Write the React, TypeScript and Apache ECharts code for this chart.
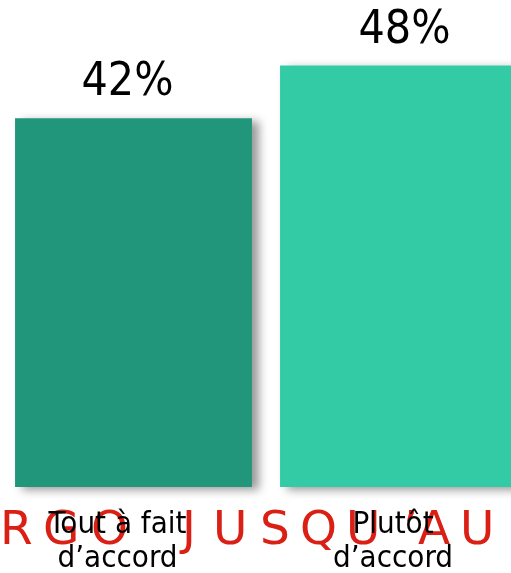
import React, { useEffect, useRef } from "react";
import * as echarts from "echarts";

const categories = ["Tout à fait\nd’accord", "Plutôt\nd’accord"];
const values = [42, 48];
const valueLabels = ["42%", "48%"];
const barColors = ["#21967A", "#33CBA5"];
const watermarkLetters = ["R", "G", "O", "J", "U", "S", "Q", "U", "’A", "U"];

const FONT = "'DejaVu Sans Condensed', 'DejaVu Sans', sans-serif";

export default function App() {
  const ref = useRef<HTMLDivElement>(null);
  useEffect(() => {
    document.body.style.overflow = "hidden";
    const chart = echarts.init(ref.current!, null, { renderer: "svg" });
    const wmX = [0, 43, 91, 182, 213, 260, 300, 346, 403, 460];
    const labelShift = [-6, 6];
    chart.setOption({
      animation: false,
      grid: { left: 1, top: 48, bottom: 86, right: 0 },
      xAxis: {
        type: "category",
        data: categories,
        axisLine: { show: false },
        axisTick: { show: false },
        axisLabel: {
          interval: 0,
          margin: 18,
          formatter: (val: string, idx: number) =>
            val.split("\n").map((l) => `{c${idx}|${l}}`).join("\n"),
          rich: {
            c0: { fontFamily: FONT, fontSize: 31, lineHeight: 34, color: "#000", padding: [0, 32, 0, 0] },
            c1: { fontFamily: FONT, fontSize: 31, lineHeight: 34, color: "#000", padding: [0, 11, 0, 0] },
          },
        },
        z: 5,
      },
      yAxis: { type: "value", min: 0, max: 50, show: false },
      series: [
        {
          type: "bar",
          barCategoryGap: "10.6%",
          data: values.map((v, i) => ({
            value: v,
            itemStyle: { color: barColors[i] },
            label: { offset: [labelShift[i], 0] },
          })),
          itemStyle: {
            shadowBlur: 10,
            shadowOffsetX: 7,
            shadowOffsetY: 3,
            shadowColor: "rgba(0,0,0,0.4)",
          },
          label: {
            show: true,
            position: "top",
            distance: 16,
            formatter: (p: any) => valueLabels[p.dataIndex],
            fontSize: 46,
            fontFamily: FONT,
            color: "#000",
          },
        },
      ],
      graphic: {
        elements: watermarkLetters.map((t, i) => ({
          type: "text",
          x: wmX[i],
          y: 504,
          z: -10,
          silent: true,
          style: {
            text: t,
            fontSize: 47,
            fontFamily: "'DejaVu Sans', sans-serif",
            fill: "#DA1F14",
            verticalAlign: "top",
          },
        })),
      },
    });
    return () => chart.dispose();
  }, []);
  return (
    <div
      ref={ref}
      style={{ position: "fixed", left: 0, top: 0, width: 531, height: 573 }}
    />
  );
}
